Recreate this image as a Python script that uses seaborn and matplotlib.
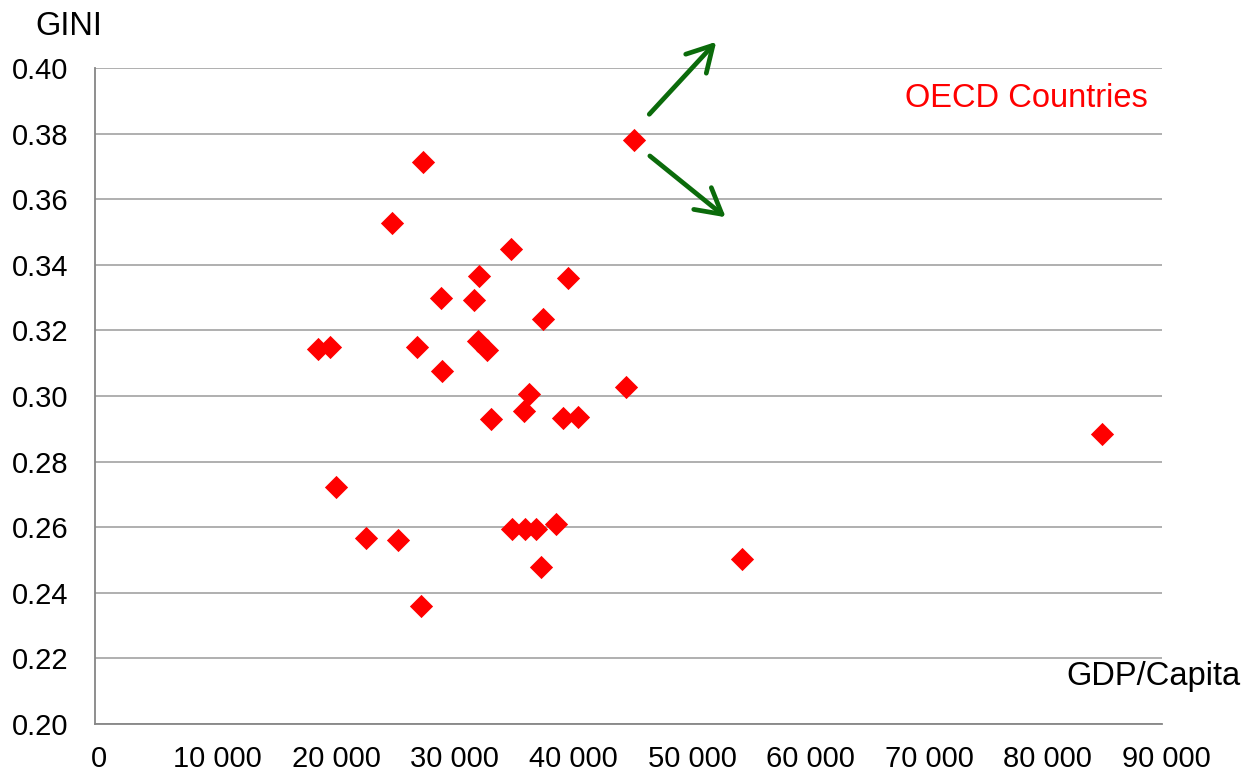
import matplotlib
matplotlib.use("Agg")
import matplotlib.pyplot as plt
import matplotlib.ticker as mticker
import matplotlib.transforms as mtransforms
import seaborn as sns
import pandas as pd

# GDP per capita vs GINI, OECD countries
gdp_per_capita = [
    18850, 19800, 20300, 22850, 25550, 25050, 27650, 27150, 27500, 29150,
    29300, 31950, 32400, 32300, 33050, 33400, 35100, 35150, 36200, 36300,
    36600, 37200, 37800, 37650, 38850, 39500, 39900, 40750, 44750, 45450,
    54600, 84900,
]
gini = [
    0.3144, 0.3150, 0.2722, 0.2567, 0.2562, 0.3529, 0.3712, 0.3150, 0.2360, 0.3300,
    0.3075, 0.3294, 0.3366, 0.3168, 0.3140, 0.2931, 0.3447, 0.2595, 0.2954, 0.2594,
    0.3006, 0.2594, 0.3235, 0.2478, 0.2609, 0.2932, 0.3360, 0.2937, 0.3027, 0.3782,
    0.2502, 0.2884,
]

x_ticks = [0, 10000, 20000, 30000, 40000, 50000, 60000, 70000, 80000, 90000]
y_ticks = [0.20, 0.22, 0.24, 0.26, 0.28, 0.30, 0.32, 0.34, 0.36, 0.38, 0.40]

# the two green arrows next to the outlier (start, end) in data units
arrows = [
    ((46750, 0.3859), (52400, 0.4080)),
    ((46800, 0.3732), (53200, 0.3545)),
]

df = pd.DataFrame({"gdp": gdp_per_capita, "gini": gini})

sns.set_style("white")
plt.rcParams["font.family"] = ["Liberation Sans", "DejaVu Sans"]
plt.rcParams["text.color"] = "black"

fig = plt.figure(figsize=(12.51, 7.74), dpi=100)
ax = fig.add_axes([0.0759, 0.0646, 0.8530, 0.8475])

sns.scatterplot(data=df, x="gdp", y="gini", ax=ax, marker="D", s=140,
                color="#ff0000", linewidth=0, zorder=3)

ax.set_xlim(0, 90000)
ax.set_ylim(0.20, 0.40)
ax.set_xticks(x_ticks)
ax.set_yticks(y_ticks)
ax.xaxis.set_major_formatter(mticker.FuncFormatter(lambda v, p: f"{int(v):,}".replace(",", " ")))
ax.yaxis.set_major_formatter(mticker.FormatStrFormatter("%.2f"))
ax.set_xlabel("")
ax.set_ylabel("")

ax.yaxis.grid(True, color="#9a9a9a", linewidth=1.1)
ax.xaxis.grid(False)
ax.set_axisbelow(True)

for side in ["top", "right"]:
    ax.spines[side].set_visible(False)
for side in ["left", "bottom"]:
    ax.spines[side].set_color("#868686")
    ax.spines[side].set_linewidth(1.3)

ax.tick_params(axis="both", direction="out", length=6, width=1.1, color="#868686",
               labelsize=21, labelcolor="black")
ax.tick_params(axis="y", pad=13)
ax.tick_params(axis="x", pad=9)

# x labels sit a touch right of their ticks in the original
shift = mtransforms.ScaledTranslation(3 / 72, 0, fig.dpi_scale_trans)
for lab in ax.get_xticklabels():
    lab.set_transform(lab.get_transform() + shift)

ax.text(-0.0562, 1.064, "GINI", transform=ax.transAxes, fontsize=23.5,
        ha="left", va="center", clip_on=False)
ax.text(1.0731, 0.073, "GDP/Capita", transform=ax.transAxes, fontsize=23.5,
        ha="right", va="center", clip_on=False)
ax.text(0.987, 0.954, "OECD Countries", transform=ax.transAxes, fontsize=23.5,
        color="#ff0000", ha="right", va="center")

for start, end in arrows:
    ax.annotate("", xy=end, xytext=start, annotation_clip=False,
                arrowprops=dict(arrowstyle="->,head_length=0.75,head_width=0.42",
                                color="#0b6b0b", lw=3.4, mutation_scale=24,
                                shrinkA=0, shrinkB=0))

fig.savefig("out.png", dpi=100)
